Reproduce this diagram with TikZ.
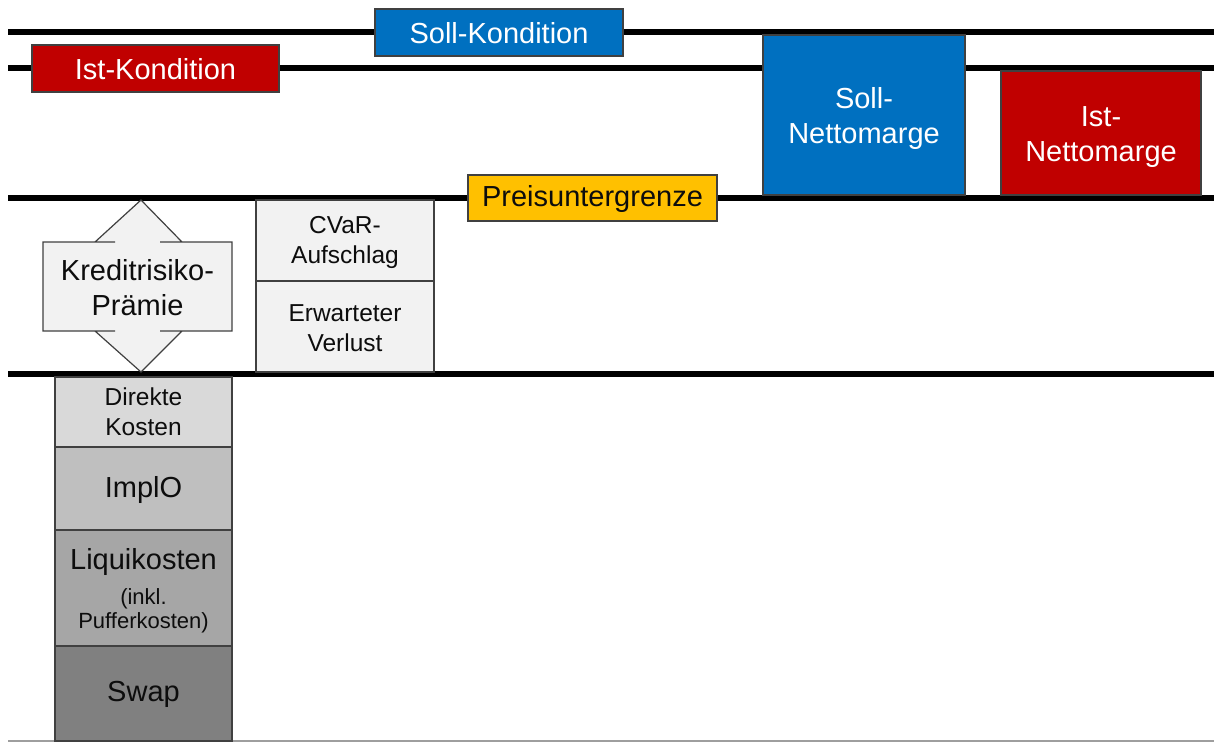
\documentclass[tikz,border=0pt]{standalone}
\usepackage{fontspec}
\setmainfont{Liberation Sans}
\definecolor{sollblue}{HTML}{0070C0}
\definecolor{istred}{HTML}{C00000}
\definecolor{pugold}{HTML}{FFC000}
\definecolor{lgray}{HTML}{F2F2F2}
\definecolor{g1}{HTML}{D9D9D9}
\definecolor{g2}{HTML}{BFBFBF}
\definecolor{g3}{HTML}{A6A6A6}
\definecolor{g4}{HTML}{808080}
\definecolor{edge}{HTML}{404040}
\definecolor{txt}{HTML}{0D0D0D}
\begin{document}
\begin{tikzpicture}[x=1pt,y=-1pt,
  level/.style={line width=6pt,black},
  boxframe/.style={draw=edge,line width=1.2pt},
  lbl/.style={align=center,inner sep=0pt,font=\fontsize{29}{35}\selectfont},
  smlbl/.style={align=center,inner sep=0pt,font=\fontsize{24.5}{30}\selectfont,text=txt},
  tinylbl/.style={align=center,inner sep=0pt,font=\fontsize{22}{24}\selectfont,text=txt}]
\useasboundingbox (0,0) rectangle (1214,742);
% levels
\coordinate (l1a) at (8,32);  \coordinate (l1b) at (1214,32);
\coordinate (l2a) at (8,68);  \coordinate (l2b) at (1214,68);
\coordinate (l3a) at (8,198); \coordinate (l3b) at (1214,198);
\coordinate (l4a) at (8,374); \coordinate (l4b) at (1214,374);
\coordinate (bla) at (8,741); \coordinate (blb) at (1214,741);
\draw[level] (l1a) -- (l1b);
\draw[level] (l2a) -- (l2b);
\draw[level] (l3a) -- (l3b);
\draw[level] (l4a) -- (l4b);
\draw[line width=1.5pt,color=black!38] (bla) -- (blb);
% top boxes
\draw[boxframe,fill=sollblue] (375,9) rectangle (623,56);
\node[lbl,text=white] (soll) at (499,33) {Soll-Kondition};
\draw[boxframe,fill=istred] (32,45) rectangle (279,92);
\node[lbl,text=white] (ist) at (155.5,69) {Ist-Kondition};
\draw[boxframe,fill=sollblue] (763,35) rectangle (965,195);
\node[lbl,text=white] (sollnm) at (864,118.5) {Soll-\\Nettomarge};
\draw[boxframe,fill=istred] (1001,71) rectangle (1201,195);
\node[lbl,text=white] (istnm) at (1101,137) {Ist-\\Nettomarge};
\draw[boxframe,fill=pugold] (468,175) rectangle (717,221);
\node[lbl,text=txt] (pu) at (592.5,199) {Preisuntergrenze};
% Kreditrisiko shape
\fill[lgray] (43,242) -- (95,242) -- (141,200) -- (182,242) -- (232,242) -- (232,331) -- (182,331) -- (141,372) -- (95,331) -- (43,331) -- cycle;
\draw[draw=edge,line width=1.2pt,line join=miter] (43,242) -- (115,242) -- (95,242) -- (141,200) -- (182,242) -- (160,242) -- (232,242) -- (232,331) -- (160,331) -- (182,331) -- (141,372) -- (95,331) -- (115,331) -- (43,331) -- cycle;
\node[lbl,text=txt] (krp) at (137.5,288) {Kreditrisiko-\\Prämie};
% CVaR / EL
\draw[boxframe,fill=lgray] (256,200) rectangle (434,281);
\node[smlbl] (cvar) at (345,242) {CVaR-\\Aufschlag};
\draw[boxframe,fill=lgray] (256,281) rectangle (434,372);
\node[smlbl] (el) at (345,328) {Erwarteter\\Verlust};
% cost stack
\draw[boxframe,fill=g1] (55,377) rectangle (232,447);
\node[smlbl] (dk) at (143.5,412) {Direkte\\Kosten};
\draw[boxframe,fill=g2] (55,447) rectangle (232,530);
\node[lbl,text=txt] (implo) at (143.5,490) {ImplO};
\draw[boxframe,fill=g3] (55,530) rectangle (232,646);
\node[lbl,text=txt] (liq) at (143.5,562) {Liquikosten};
\node[tinylbl] (inkl) at (143.5,611) {(inkl.\\Pufferkosten)};
\draw[boxframe,fill=g4] (55,646) rectangle (232,741);
\node[lbl,text=txt] (swap) at (143.5,694) {Swap};
\end{tikzpicture}
\end{document}
